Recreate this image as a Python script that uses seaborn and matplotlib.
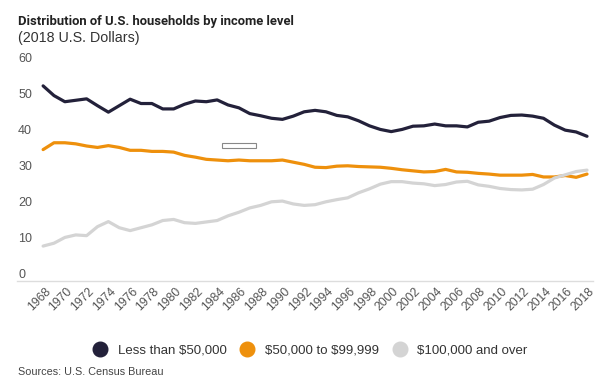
import pandas as pd
import matplotlib.pyplot as plt
import seaborn as sns
from matplotlib.lines import Line2D
from matplotlib.patches import Rectangle
from matplotlib.transforms import ScaledTranslation

# share of households (%) by income group, 2018 dollars
years = list(range(1968, 2019))
less_50k = [54.2, 51.5, 49.8, 50.2, 50.6, 48.7, 46.9, 48.7, 50.5, 49.3,
            49.3, 47.8, 47.8, 49.1, 50.0, 49.8, 50.3, 48.9, 48.1, 46.5,
            45.9, 45.2, 44.9, 45.8, 47.0, 47.4, 47.0, 46.0, 45.6, 44.5,
            43.1, 42.1, 41.5, 42.1, 43.0, 43.1, 43.6, 43.1, 43.1, 42.8,
            44.1, 44.4, 45.4, 46.0, 46.1, 45.8, 45.2, 43.3, 41.9, 41.4, 40.2]
mid_50_100k = [36.5, 38.4, 38.4, 38.1, 37.5, 37.1, 37.6, 37.1, 36.3, 36.3,
               36.0, 36.0, 35.8, 34.9, 34.4, 33.8, 33.6, 33.4, 33.6, 33.4,
               33.4, 33.4, 33.6, 33.0, 32.4, 31.6, 31.5, 31.9, 32.0, 31.8,
               31.7, 31.6, 31.3, 30.9, 30.6, 30.3, 30.4, 31.0, 30.3, 30.2,
               29.9, 29.7, 29.4, 29.4, 29.4, 29.6, 28.9, 28.9, 29.3, 28.8, 29.7]
over_100k = [9.7, 10.5, 12.1, 12.8, 12.6, 15.1, 16.5, 14.8, 14.0, 14.8,
             15.6, 16.8, 17.1, 16.2, 16.0, 16.4, 16.8, 18.1, 19.1, 20.3,
             21.0, 22.0, 22.2, 21.4, 21.0, 21.2, 22.0, 22.6, 23.1, 24.5,
             25.6, 26.9, 27.6, 27.6, 27.2, 27.0, 26.5, 26.8, 27.5, 27.7,
             26.7, 26.3, 25.7, 25.4, 25.3, 25.5, 26.8, 28.6, 29.5, 30.4, 30.8]

groups = ["Less than $50,000", "$50,000 to $99,999", "$100,000 and over"]
colors = ["#23213a", "#ee900c", "#d4d4d4"]
y_ticks = [0, 10, 20, 30, 40, 50, 60]
x_ticks = years[::2]

df = pd.DataFrame({"year": years, groups[0]: less_50k,
                   groups[1]: mid_50_100k, groups[2]: over_100k})
long_df = df.melt(id_vars="year", var_name="group", value_name="share")

sns.set_theme(style="white")
plt.rcParams["font.family"] = ["Liberation Sans", "DejaVu Sans"]

fig = plt.figure(figsize=(5.99, 3.85), dpi=100)
ax = fig.add_axes([17 / 599, 104 / 385, 576 / 599, 216 / 385])

sns.lineplot(data=long_df, x="year", y="share", hue="group", hue_order=groups,
             palette=colors, linewidth=2.3, legend=False, ax=ax)

ax.set_xlim(1965.6, 2018.55)
ax.set_ylim(0, 60)
ax.set_xlabel("")
ax.set_ylabel("")

for side in ["top", "left", "right"]:
    ax.spines[side].set_visible(False)
ax.spines["bottom"].set_color("#dddddd")
ax.spines["bottom"].set_linewidth(1)

ax.set_yticks(y_ticks)
ax.set_yticklabels([str(t) for t in y_ticks])
ax.tick_params(axis="y", length=0, pad=-0.8, labelsize=9, labelcolor="#555555")
for lbl in ax.get_yticklabels():
    lbl.set_horizontalalignment("left")
    lbl.set_verticalalignment("bottom")

ax.set_xticks(x_ticks)
ax.set_xticklabels([str(t) for t in x_ticks], rotation=45, ha="center")
ax.tick_params(axis="x", length=0, pad=3, labelsize=8.8, labelcolor="#555555")
shift = ScaledTranslation(-4 / 100, 0, fig.dpi_scale_trans)
for lbl in ax.get_xticklabels():
    lbl.set_transform(lbl.get_transform() + shift)

fig.text(18 / 599, 1 - 25 / 385, "Distribution of U.S. households by income level",
         fontsize=9.4, fontweight="bold", color="#222222", family=["Roboto", "Liberation Sans"])
fig.text(18 / 599, 1 - 42 / 385, "(2018 U.S. Dollars)", fontsize=10.3, color="#333333")

handles = [Line2D([], [], marker="o", linestyle="", markersize=10.5,
                  markerfacecolor=c, markeredgecolor=c) for c in colors]
fig.legend(handles, [g.replace("$", r"\$") for g in groups], loc="center",
           bbox_to_anchor=(0.513, 1 - 350 / 385), ncol=3, frameon=False, fontsize=9.5,
           handletextpad=0.35, columnspacing=0.55, labelcolor="#333333")

fig.text(18 / 599, 1 - 375 / 385, "Sources: U.S. Census Bureau", fontsize=7.8, color="#444444")

# small empty box left over in the original screenshot
fig.patches.append(Rectangle((222 / 599, 1 - 148 / 385), 34 / 599, 5 / 385,
                             transform=fig.transFigure, fill=False,
                             edgecolor="#888888", linewidth=0.8))

fig.savefig("out.png", dpi=100)
